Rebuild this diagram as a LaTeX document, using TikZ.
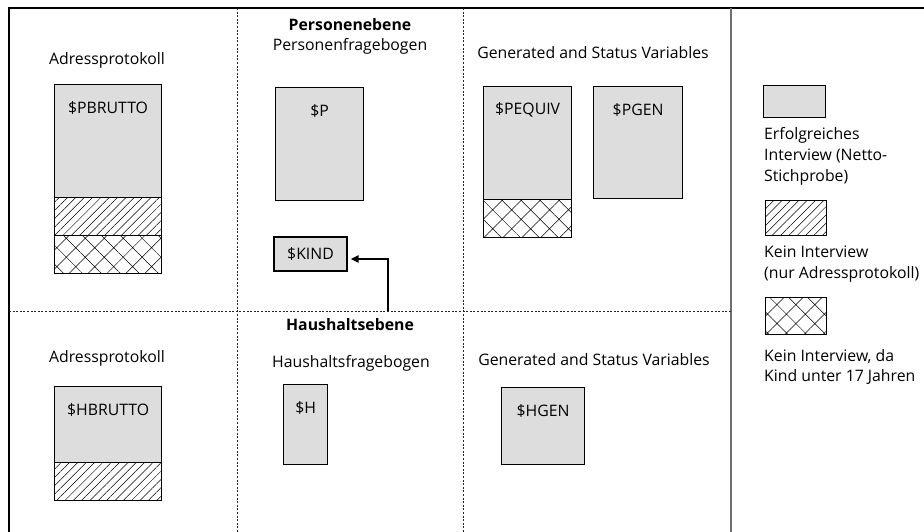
\documentclass[tikz,border=0pt]{standalone}
\usepackage{fontspec}
\setmainfont{Open Sans}
\usetikzlibrary{patterns.meta,arrows.meta}
\definecolor{boxgray}{RGB}{221,221,221}
\definecolor{lineGray}{RGB}{110,110,110}
\begin{document}
\begin{tikzpicture}[x=1pt,y=-1pt,
  every node/.style={font=\fontsize{15.8}{20.8}\selectfont, inner sep=0pt},
  basebox/.style={draw=black, line width=1.2pt, anchor=north west, inner sep=0pt},
  graybox/.style={basebox, fill=boxgray},
  hatchbox/.style={basebox, pattern={Lines[angle=45,distance=5.9pt,line width=0.5pt]}},
  crossbox/.style={basebox, pattern={Hatch[angle=45,distance=13.4pt,line width=0.5pt]}},
  sepline/.style={black!85, line width=0.8pt, dash pattern=on 2pt off 1.6pt},
  heading/.style={font=\bfseries\fontsize{15.8}{18}\selectfont},
  legtext/.style={anchor=west, align=left}]
\useasboundingbox (0,0) rectangle (924,532);
% frame and separators
\draw[line width=1.5pt] (9,532) -- (9,8) -- (924,8);
\draw[lineGray, line width=1.5pt] (731,8) -- (731,532);
\draw[sepline] (237,8) -- (237,532);
\draw[sepline] (463,8) -- (463,532);
\draw[sepline] (9,311) -- (731,311);
% headings
\node[heading] (pe) at (350,25) {Personenebene};
\node (pf) at (350,46) {Personenfragebogen};
\node[heading] (he) at (350,325) {Haushaltsebene};
\node (hf) at (351,363) {Haushaltsfragebogen};
\node (ap1) at (107,60) {Adressprotokoll};
\node (ap2) at (107,358) {Adressprotokoll};
\node (gs1) at (593,53) {Generated and Status Variables};
\node (gs2) at (594,360) {Generated and Status Variables};
% person level
\node[graybox, minimum width=107pt, minimum height=113pt] (pb) at (54,84) {};
\node[hatchbox, minimum width=107pt, minimum height=38pt] (pbh) at (54,197) {};
\node[crossbox, minimum width=107pt, minimum height=38pt] (pbx) at (54,235) {};
\node (pbl) at ([yshift=-24pt]pb.north) {\$PBRUTTO};
\node[graybox, minimum width=88pt, minimum height=113pt] (p) at (275,87) {};
\node (pl) at ([yshift=-24pt]p.north) {\$P};
\node[graybox, minimum width=73pt, minimum height=34pt, anchor=center] (kind) at (310.5,254) {\$KIND};
\node[graybox, minimum width=88pt, minimum height=113pt] (peq) at (483,86) {};
\node[crossbox, minimum width=88pt, minimum height=38pt] (peqx) at (483,199) {};
\node (peql) at ([yshift=-24pt]peq.north) {\$PEQUIV};
\node[graybox, minimum width=89pt, minimum height=112pt] (pgen) at (593,86) {};
\node (pgenl) at ([yshift=-24pt]pgen.north) {\$PGEN};
% household level
\node[graybox, minimum width=107pt, minimum height=76pt] (hb) at (54,386) {};
\node[hatchbox, minimum width=107pt, minimum height=38pt] (hbh) at (54,462) {};
\node (hbl) at ([yshift=-24pt]hb.north) {\$HBRUTTO};
\node[graybox, minimum width=44pt, minimum height=80pt] (h) at (283,384) {};
\node (hl) at ([yshift=-24pt]h.north) {\$H};
\node[graybox, minimum width=83pt, minimum height=77pt] (hgen) at (501,387) {};
\node (hgenl) at ([yshift=-24pt]hgen.north) {\$HGEN};
% arrow
\coordinate (astart) at (388,311);
\draw[line width=2pt, -{Triangle[length=8pt,width=7pt]}, shorten >=3pt] (astart) |- ([yshift=-5pt]kind.east);
% legend
\node[graybox, minimum width=62pt, minimum height=32pt] (lg1) at (763,85) {};
\node[legtext] (lt1) at (764,156.5) {Erfolgreiches\\Interview (Netto-\\Stichprobe)};
\node[hatchbox, minimum width=61pt, minimum height=35pt] (lg2) at (765,200) {};
\node[legtext] (lt2) at (764,264) {Kein Interview\\(nur Adressprotokoll)};
\node[crossbox, minimum width=61pt, minimum height=37pt] (lg3) at (765,297) {};
\node[legtext] (lt3) at (764,367) {Kein Interview, da\\Kind unter 17 Jahren};
\end{tikzpicture}
\end{document}
